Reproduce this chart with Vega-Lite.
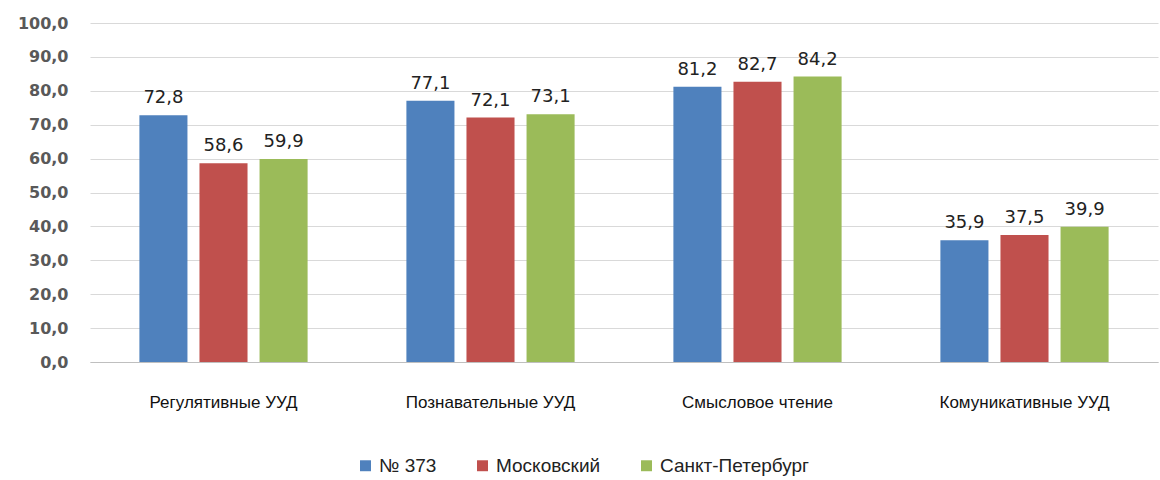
{
  "$schema": "https://vega.github.io/schema/vega-lite/v6.json",
  "width": 1068,
  "height": 339,
  "autosize": {"type": "none"},
  "padding": {"left": 90, "top": 23, "right": 2, "bottom": 118},
  "background": "white",
  "config": {"view": {"stroke": null}, "font": "Liberation Sans",
    "locale": {"number": {"decimal": ",", "thousands": " ", "grouping": [3], "currency": ["", ""]}}},
  "data": {"values": [
    {"cat": "Регулятивные УУД", "series": "№ 373", "value": 72.8},
    {"cat": "Регулятивные УУД", "series": "Московский", "value": 58.6},
    {"cat": "Регулятивные УУД", "series": "Санкт-Петербург", "value": 59.9},
    {"cat": "Познавательные УУД", "series": "№ 373", "value": 77.1},
    {"cat": "Познавательные УУД", "series": "Московский", "value": 72.1},
    {"cat": "Познавательные УУД", "series": "Санкт-Петербург", "value": 73.1},
    {"cat": "Смысловое чтение", "series": "№ 373", "value": 81.2},
    {"cat": "Смысловое чтение", "series": "Московский", "value": 82.7},
    {"cat": "Смысловое чтение", "series": "Санкт-Петербург", "value": 84.2},
    {"cat": "Комуникативные УУД", "series": "№ 373", "value": 35.9},
    {"cat": "Комуникативные УУД", "series": "Московский", "value": 37.5},
    {"cat": "Комуникативные УУД", "series": "Санкт-Петербург", "value": 39.9}
  ]},
  "encoding": {
    "x": {"field": "cat", "type": "nominal", "sort": null,
      "scale": {"paddingInner": 0.37, "paddingOuter": 0.185},
      "axis": {"title": null, "labelAngle": 0, "labelFontSize": 17, "labelColor": "#111", "labelPadding": 32, "ticks": false, "domainColor": "#bfbfbf", "labelFont": "Liberation Sans"}},
    "xOffset": {"field": "series", "type": "nominal", "sort": null, "scale": {"paddingInner": 0.2}},
    "y": {"field": "value", "type": "quantitative",
      "scale": {"domain": [0, 100]},
      "axis": {"title": null, "values": [0,10,20,30,40,50,60,70,80,90,100], "format": ".1f", "labelOverlap": false, "labelFontSize": 16, "labelFontWeight": "bold", "labelColor": "#595959", "labelPadding": 22, "ticks": false, "domain": false, "gridColor": "#d9d9d9", "labelFont": "DejaVu Sans"}}
  },
  "layer": [
    {"mark": {"type": "bar"},
      "encoding": {"color": {"field": "series", "type": "nominal", "sort": null,
        "scale": {"domain": ["№ 373", "Московский", "Санкт-Петербург"], "range": ["#4F81BD", "#C0504D", "#9BBB59"]},
        "legend": {"title": null, "orient": "none", "legendX": 266, "legendY": 433, "direction": "horizontal", "symbolType": "square", "symbolSize": 120, "symbolStrokeWidth": 0, "labelFontSize": 19, "labelColor": "#222", "columnPadding": 36, "labelFont": "Liberation Sans"}}}},
    {"mark": {"type": "text", "dy": -17, "fontSize": 18, "color": "#222", "font": "DejaVu Sans"},
      "encoding": {"text": {"field": "value", "type": "quantitative", "format": ".1f"},
        "detail": {"field": "series"}}}
  ]
}
